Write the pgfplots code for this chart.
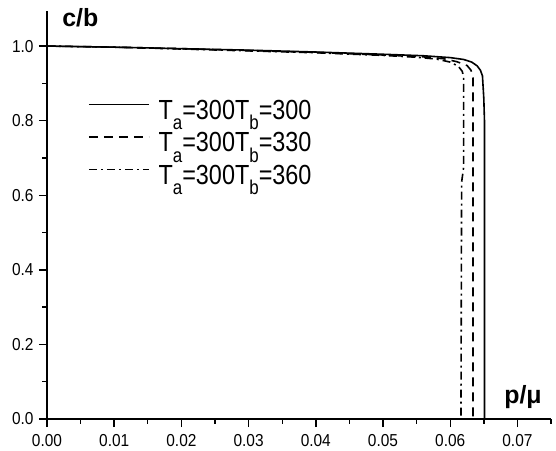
\documentclass[border=0pt]{standalone}
\usepackage{graphicx}
\usepackage{pgfplots}
\pgfplotsset{compat=1.18}
\usepackage{fontspec}
\setmainfont{Liberation Sans}
\newcommand{\legtxt}[1]{\scalebox{1}[1.18]{T\raisebox{-9bp}{\fontsize{17}{17}\selectfont a}=300T\raisebox{-9bp}{\fontsize{17}{17}\selectfont b}=#1}}
\begin{document}
\begin{tikzpicture}
\path[use as bounding box] (-47bp,-32bp) rectangle (509bp,419bp);
\begin{axis}[
  at={(0,0)}, anchor=south west,
  scale only axis, width=504bp, height=408bp,
  xmin=0, xmax=0.075, ymin=0, ymax=1.094,
  axis lines*=left,
  axis line style={line width=1.7bp},
  tick align=outside,
  major tick length=8bp, minor tick length=4.5bp,
  every tick/.style={black, line width=1.4bp},
  xtick={0,0.01,...,0.07}, minor xtick={0.005,0.015,...,0.075},
  ytick={0,0.2,...,1.0}, minor ytick={0.1,0.3,...,0.9},
  /pgf/number format/assume math mode=true,
  xticklabel={\scalebox{1}[1.12]{\pgfmathprintnumber[fixed,fixed zerofill,precision=2]{\tick}}},
  yticklabel={\scalebox{1}[1.12]{\pgfmathprintnumber[fixed,fixed zerofill,precision=1]{\tick}}},
  xticklabel style={yshift=-4bp},
  yticklabel style={xshift=-2bp},
  ticklabel style={font=\fontsize{15.5}{16}\selectfont},
  scaled x ticks=false,
  clip=false,
  legend cell align=left,
  legend style={draw=none, fill=none, font=\fontsize{23.5}{28}\selectfont,
    at={(rel axis cs:0.0813,0.789)}, anchor=north west, row sep=0pt,
    column sep=9bp, inner sep=0pt, outer sep=0pt,
    nodes={inner sep=0pt, outer sep=0pt, text height=22bp, text depth=10.5bp}},
  legend image code/.code={\draw[#1] (0bp,9bp) -- (60bp,9bp);},
]
\addplot[black, line width=1.6bp] coordinates {
(0,1.000) (0.01,0.997) (0.02,0.993) (0.03,0.989) (0.04,0.984) (0.05,0.978)
(0.056,0.974) (0.060,0.969) (0.0620,0.964) (0.0632,0.957) (0.0640,0.947)
(0.0645,0.935) (0.0648,0.920) (0.0650,0.86) (0.0651,0.80) (0.0651,0.0)
};
\addlegendentry{\legtxt{300}}
\addplot[black, line width=1.6bp, dash pattern=on 9bp off 6bp] coordinates {
(0,1.000) (0.01,0.997) (0.02,0.993) (0.03,0.988) (0.04,0.983) (0.05,0.976)
(0.056,0.971) (0.059,0.966) (0.061,0.958) (0.0625,0.948) (0.0631,0.935)
(0.0634,0.915) (0.0634,0.0)
};
\addlegendentry{\legtxt{330}}
\addplot[black, line width=1.6bp, dash pattern=on 8bp off 4bp on 2bp off 4bp] coordinates {
(0,1.000) (0.01,0.997) (0.02,0.992) (0.03,0.987) (0.04,0.982) (0.05,0.975)
(0.055,0.970) (0.058,0.965) (0.0600,0.957) (0.0612,0.946) (0.0618,0.932)
(0.0620,0.915) (0.0620,0.675) (0.0617,0.635) (0.0616,0.0)
};
\addlegendentry{\legtxt{360}}
\node[anchor=base west, inner sep=0pt, font=\fontsize{25}{28}\bfseries\selectfont] at (rel axis cs:0.030,0.961) {c/b};
\node[anchor=base west, inner sep=0pt, font=\fontsize{25}{28}\bfseries\selectfont] at (rel axis cs:0.907,0.039) {p/μ};
\end{axis}
\end{tikzpicture}
\end{document}
